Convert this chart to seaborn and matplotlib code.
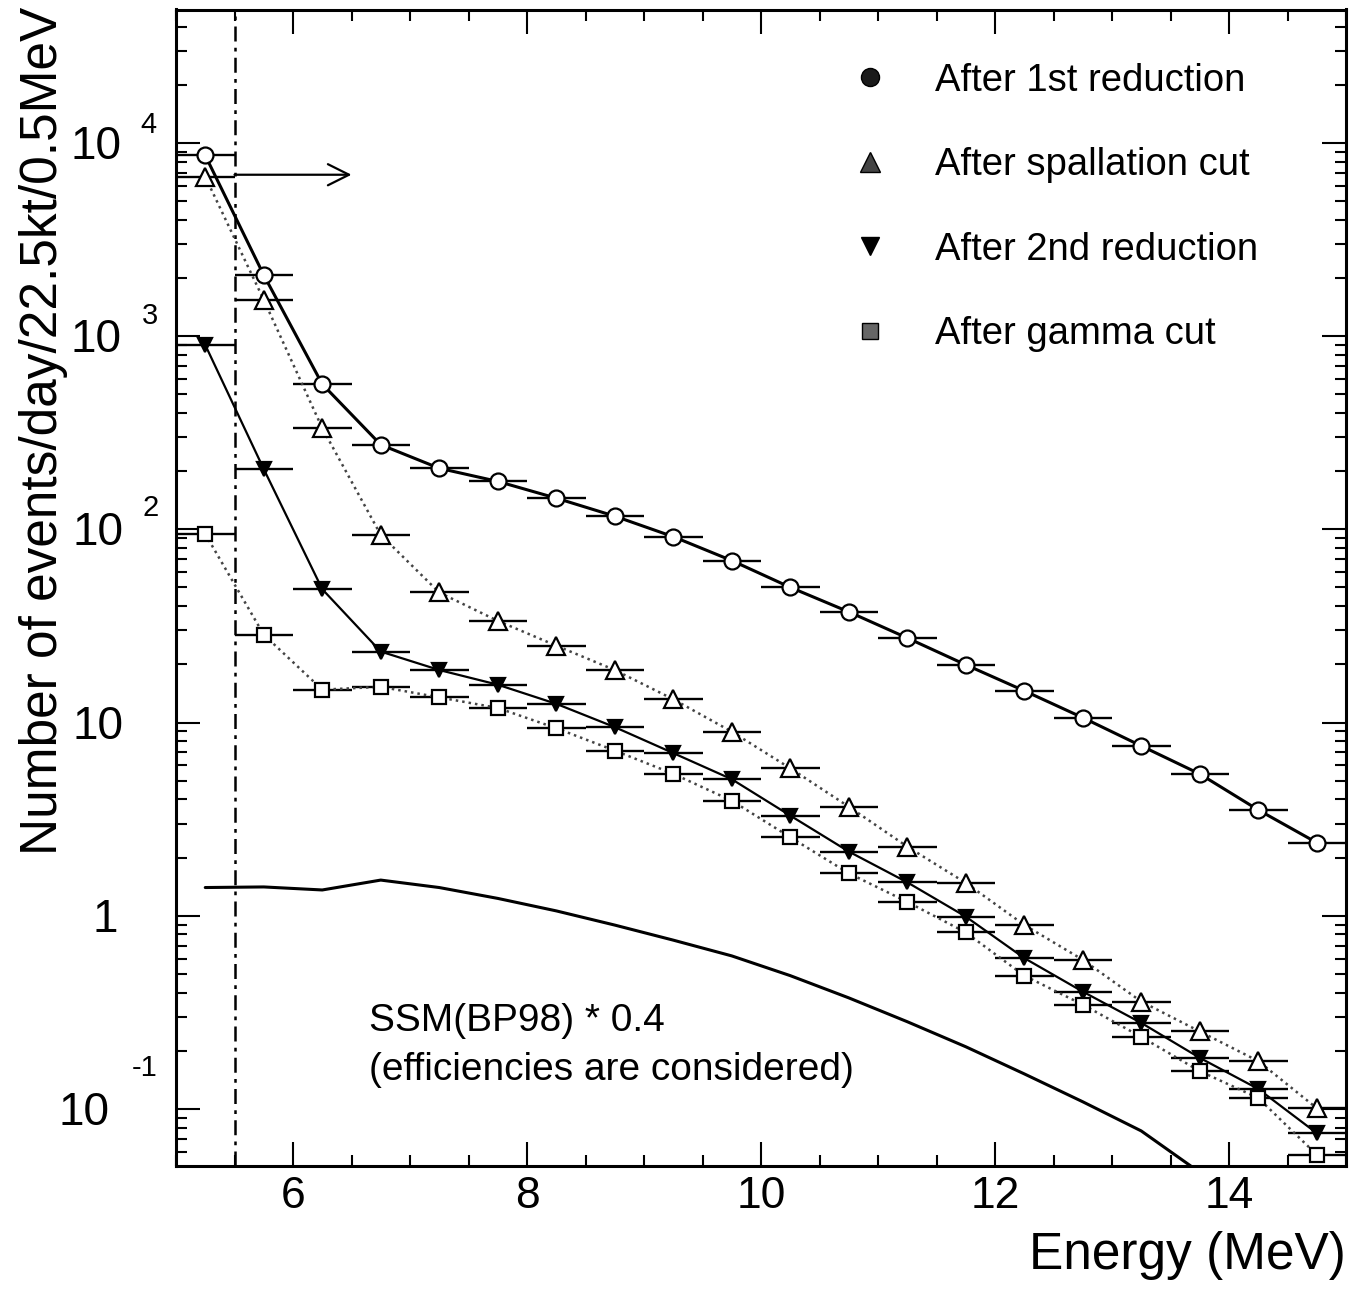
import numpy as np
import pandas as pd
import matplotlib
matplotlib.use("Agg")
import matplotlib.pyplot as plt
from matplotlib.lines import Line2D
from matplotlib.ticker import MultipleLocator, LogLocator, NullFormatter
import seaborn as sns

# Bin centres (0.5 MeV bins)
energy = [5.25, 5.75, 6.25, 6.75, 7.25, 7.75, 8.25, 8.75, 9.25, 9.75,
          10.25, 10.75, 11.25, 11.75, 12.25, 12.75, 13.25, 13.75, 14.25, 14.75]

# Event rates (events/day/22.5kt/0.5MeV) after each reduction step
first_reduction = [8610, 2070, 564, 274, 207, 177, 145, 117, 91.6, 68.9,
                   50.1, 37.4, 27.4, 19.9, 14.6, 10.6, 7.57, 5.42, 3.53, 2.39]
spallation_cut = [6680, 1540, 334, 93.6, 47.1, 33.6, 25.0, 18.7, 13.2, 8.97,
                  5.80, 3.67, 2.28, 1.48, 0.897, 0.592, 0.36, 0.252, 0.177, 0.101]
second_reduction = [900, 205, 49.0, 23.3, 18.7, 15.7, 12.5, 9.47, 6.95, 5.09,
                    3.30, 2.15, 1.49, 0.99, 0.604, 0.405, 0.279, 0.184, 0.127, 0.075]
gamma_cut = [94.6, 28.5, 14.8, 15.3, 13.5, 11.9, 9.35, 7.16, 5.43, 3.94,
             2.55, 1.66, 1.18, 0.82, 0.49, 0.347, 0.236, 0.157, 0.114, 0.058]

# Expected solar neutrino signal, SSM(BP98) x 0.4
ssm_energy = [5.25, 5.75, 6.25, 6.75, 7.25, 7.75, 8.25, 8.75, 9.25, 9.75,
              10.25, 10.75, 11.25, 11.75, 12.25, 12.75, 13.25, 13.75]
ssm_rate = [1.40, 1.41, 1.36, 1.53, 1.40, 1.23, 1.06, 0.895, 0.748, 0.62,
            0.49, 0.376, 0.283, 0.21, 0.152, 0.109, 0.077, 0.047]

bin_half_width = 0.25
threshold = 5.5
arrow_end = 6.5
arrow_level = 6840

legend_labels = ["After 1st reduction", "After spallation cut",
                 "After 2nd reduction", "After gamma cut"]

df = pd.DataFrame({
    "energy": energy,
    "first": first_reduction,
    "spall": spallation_cut,
    "second": second_reduction,
    "gamma": gamma_cut,
})
ssm_df = pd.DataFrame({"energy": ssm_energy, "rate": ssm_rate})

sns.set_theme(style="ticks")
plt.rcParams["font.family"] = ["Liberation Sans", "DejaVu Sans"]
plt.rcParams.update({
    "text.color": "black",
    "axes.labelcolor": "black",
    "xtick.color": "black",
    "ytick.color": "black",
    "axes.edgecolor": "black",
})

W, H = 1364, 1296
fig = plt.figure(figsize=(W / 100, H / 100), dpi=100)
ax_left, ax_right, ax_top, ax_bottom = 176, 1346, 9.5, 1166
ax = fig.add_axes([ax_left / W, 1 - ax_bottom / H,
                   (ax_right - ax_left) / W, (ax_bottom - ax_top) / H])
ax.set_yscale("log")

series = [
    ("first", dict(marker="o", markersize=11.5, markerfacecolor="white",
                   linestyle="-", linewidth=2.2, color="black")),
    ("spall", dict(marker="^", markersize=13, markerfacecolor="white",
                   linestyle=(0, (1, 1.6)), linewidth=1.8, color="#444444")),
    ("second", dict(marker="v", markersize=10, markerfacecolor="black",
                    linestyle="-", linewidth=1.6, color="black")),
    ("gamma", dict(marker="s", markersize=9.5, markerfacecolor="white",
                   linestyle=(0, (1, 1.6)), linewidth=1.8, color="#444444")),
]

for col, kw in series:
    ax.errorbar(df["energy"], df[col], xerr=bin_half_width, fmt="none",
                ecolor="black", elinewidth=1.7, capsize=0, zorder=2)
    sns.lineplot(data=df, x="energy", y=col, ax=ax, errorbar=None,
                 markeredgecolor="black", markeredgewidth=1.6, zorder=3, **kw)

sns.lineplot(data=ssm_df, x="energy", y="rate", ax=ax, errorbar=None,
             color="black", linewidth=2.2, zorder=3)

# Analysis threshold and the direction of the accepted region
ax.axvline(threshold, color="black", linewidth=1.8,
           linestyle=(0, (6, 2.5, 1.5, 2.5)), zorder=1)
ax.annotate("", xy=(arrow_end, arrow_level), xytext=(threshold, arrow_level),
            arrowprops=dict(arrowstyle="->", color="black", lw=1.6,
                            mutation_scale=38, shrinkA=0, shrinkB=0))

ax.text(6.65, 0.254, "SSM(BP98) * 0.4", fontsize=28, va="baseline", ha="left")
ax.text(6.65, 0.142, "(efficiencies are considered)", fontsize=28,
        va="baseline", ha="left")

ax.set_xlim(5, 15)
ax.set_ylim(0.0507, 4.9e4)

ax.xaxis.set_major_locator(MultipleLocator(2))
ax.xaxis.set_minor_locator(MultipleLocator(0.5))
ax.yaxis.set_major_locator(LogLocator(base=10, numticks=30))
ax.yaxis.set_minor_locator(LogLocator(base=10, subs=np.arange(2, 10) * 1.0, numticks=100))
ax.yaxis.set_minor_formatter(NullFormatter())

ax.tick_params(which="both", direction="in", top=True, right=True,
               color="black", width=1.5)
ax.tick_params(which="major", length=17)
ax.tick_params(which="minor", length=8)
ax.tick_params(axis="x", labelsize=32, pad=7, labelcolor="black")
ax.tick_params(axis="y", labelleft=False)

for sp in ax.spines.values():
    sp.set_linewidth(2.2)
    sp.set_color("black")

# Decade labels on the log axis: mantissa and raised exponent
decade_labels = [
    (1e4, "10", "4", -55, -36, 18),
    (1e3, "10", "3", -55, -34, 20),
    (1e2, "10", "2", -53, -34, 21),
    (1e1, "10", None, -52, 0, 0),
    (1e0, "1", None, -58, 0, 0),
    (1e-1, "10", "-1", -66, -44, 41),
]
for val, base, expo, dx_base, dx_exp, dy_exp in decade_labels:
    ax.annotate(base, xy=(0, val), xycoords=("axes fraction", "data"),
                xytext=(dx_base, -4), textcoords="offset pixels",
                ha="right", va="center", fontsize=33, annotation_clip=False)
    if expo:
        ax.annotate(expo, xy=(0, val), xycoords=("axes fraction", "data"),
                    xytext=(dx_exp, dy_exp), textcoords="offset pixels",
                    ha="left", va="center", fontsize=21, annotation_clip=False)

ax.set_xlabel("Energy (MeV)", fontsize=37, loc="right")
ax.xaxis.set_label_coords(1.0, -0.0562)
ax.set_ylabel("Number of events/day/22.5kt/0.5MeV", fontsize=37)
ax.yaxis.set_label_coords(-0.092, 0.6355)

handles = [
    Line2D([], [], linestyle="none", marker="o", markersize=13,
           markerfacecolor="#1a1a1a", markeredgecolor="black"),
    Line2D([], [], linestyle="none", marker="^", markersize=14,
           markerfacecolor="#444444", markeredgecolor="black"),
    Line2D([], [], linestyle="none", marker="v", markersize=13,
           markerfacecolor="black", markeredgecolor="black"),
    Line2D([], [], linestyle="none", marker="s", markersize=12,
           markerfacecolor="#666666", markeredgecolor="black"),
]
ax.legend(handles, legend_labels, loc="upper left", bbox_to_anchor=(0.577, 0.954),
          frameon=False, fontsize=27.5, handlelength=1.0, handletextpad=1.2,
          labelspacing=1.27, borderpad=0, borderaxespad=0)

fig.savefig("out.png", dpi=100, facecolor="white")
